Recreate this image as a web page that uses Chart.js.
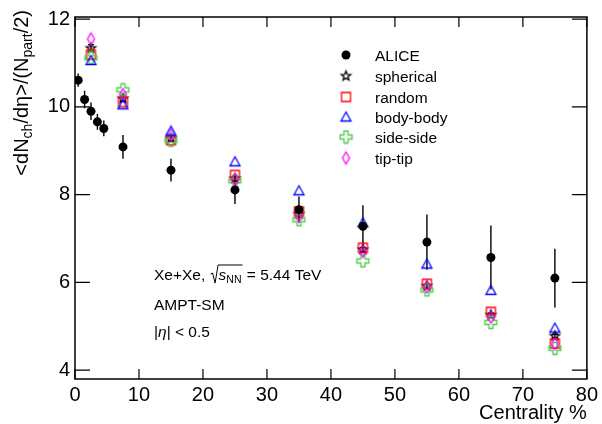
<!DOCTYPE html>
<html>
<head>
<meta charset="utf-8">
<script src="https://cdn.jsdelivr.net/npm/chart.js@4.4.1/dist/chart.umd.min.js"></script>
<style>html,body{margin:0;padding:0;background:#fff}</style>
</head>
<body>
<canvas id="myChart" width="602" height="424"></canvas>
<script>
const FONT = "'Liberation Sans', Arial, Helvetica, sans-serif";

// ALICE data
const aliceX = [0.5, 1.5, 2.5, 3.5, 4.5, 7.5, 15, 25, 35, 45, 55, 65, 75];
const aliceY = [10.61, 10.17, 9.90, 9.66, 9.51, 9.09, 8.56, 8.11, 7.66, 7.28, 6.92, 6.57, 6.10];
const aliceErr = [0.15, 0.2, 0.2, 0.18, 0.18, 0.27, 0.26, 0.32, 0.3, 0.48, 0.63, 0.73, 0.67];

// AMPT-SM curves
const modelX = [2.5, 7.5, 15, 25, 35, 45, 55, 65, 75];
const spherical = [11.34, 10.19, 9.28, 8.37, 7.56, 6.75, 5.92, 5.26, 4.78];
const sphericalErr = [0.08, 0.06, 0.05, 0.05, 0.05, 0.05, 0.04, 0.04, 0.04];
const random = [11.19, 10.11, 9.24, 8.45, 7.62, 6.79, 5.97, 5.33, 4.61];
const bodyBody = [11.06, 10.05, 9.45, 8.75, 8.09, 7.36, 6.42, 5.82, 4.96];
const sideSide = [11.12, 10.39, 9.24, 8.32, 7.43, 6.49, 5.83, 5.09, 4.50];
const tipTip = [11.55, 10.28, 9.36, 8.34, 7.51, 6.71, 5.90, 5.21, 4.60];

const xTicks = [0, 10, 20, 30, 40, 50, 60, 70, 80];
const yTicks = [4, 6, 8, 10, 12];

// open ROOT-like markers
function marker(color, draw) {
    const c = document.createElement('canvas');
    c.width = 15; c.height = 15;
    const g = c.getContext('2d');
    g.strokeStyle = color;
    g.lineWidth = 1.3;
    g.translate(7.5, 7.5);
    g.beginPath();
    draw(g);
    g.closePath();
    g.stroke();
    return c;
}
const starMk = marker('#000', g => {
    for (let i = 0; i < 10; i++) {
        let a = -Math.PI / 2 + i * Math.PI / 5
        let r = i % 2 ? 2.1 : 5
        g.lineTo(r * Math.cos(a), r * Math.sin(a))
    }
});
const squareMk = marker('#ff0000', g => g.rect(-4.5, -4.5, 9, 9));
const triMk = marker('#0000ff', g => { g.moveTo(0, -5); g.lineTo(5, 4); g.lineTo(-5, 4); });
const crossMk = marker('#4ccc4c', g => {
    const a = 2, l = 6;
    const pts = [[-a,-l],[a,-l],[a,-a],[l,-a],[l,a],[a,a],[a,l],[-a,l],[-a,a],[-l,a],[-l,-a],[-a,-a]];
    for (let p of pts) g.lineTo(p[0], p[1]);
});
const diaMk = marker('#ff00ff', g => { g.moveTo(0, -6); g.lineTo(3.5, 0); g.lineTo(0, 6); g.lineTo(-3.5, 0); });

const pts = (xs, ys) => xs.map((x, i) => ({ x: x, y: ys[i] }));

function richText(ctx, segs, x, y) {
    let cx = x;
    for (let s of segs) {
        ctx.font = (s.it ? 'italic ' : '') + s.size + 'px ' + FONT;
        ctx.fillText(s.t, cx, y + (s.dy || 0));
        cx += ctx.measureText(s.t).width;
    }
    return cx;
}
function richWidth(ctx, segs) {
    let w = 0;
    for (let s of segs) {
        ctx.font = (s.it ? 'italic ' : '') + s.size + 'px ' + FONT;
        w += ctx.measureText(s.t).width;
    }
    return w;
}

const errorBars = {
    id: 'errorBars',
    beforeDatasetsDraw(chart) {
        const ctx = chart.ctx, ys = chart.scales.y;
        chart.data.datasets.forEach((ds, i) => {
            if (!ds.err) return;
            const meta = chart.getDatasetMeta(i);
            ctx.save();
            ctx.strokeStyle = ds.borderColor;
            ctx.lineWidth = 1.4;
            meta.data.forEach((p, j) => {
                const v = ds.data[j].y;
                const top = ys.getPixelForValue(v + ds.err[j]);
                const bot = ys.getPixelForValue(v - ds.err[j]);
                ctx.beginPath();
                ctx.moveTo(p.x, top); ctx.lineTo(p.x, bot);
                if (ds.cap) {
                    ctx.moveTo(p.x - ds.cap, top); ctx.lineTo(p.x + ds.cap, top);
                    ctx.moveTo(p.x - ds.cap, bot); ctx.lineTo(p.x + ds.cap, bot);
                }
                ctx.stroke();
            });
            ctx.restore();
        });
    }
};

const rootFrame = {
    id: 'rootFrame',
    afterDraw(chart) {
        const ctx = chart.ctx, a = chart.chartArea;
        const xs = chart.scales.x, ys = chart.scales.y;
        ctx.save();
        ctx.strokeStyle = '#000';
        ctx.lineWidth = 1.5;
        ctx.strokeRect(a.left, a.top, a.right - a.left, a.bottom - a.top);
        ctx.beginPath();
        for (let v of xTicks) {
            const px = xs.getPixelForValue(v);
            ctx.moveTo(px, a.bottom); ctx.lineTo(px, a.bottom - 10);
            ctx.moveTo(px, a.top); ctx.lineTo(px, a.top + 10);
        }
        for (let v of yTicks) {
            const py = ys.getPixelForValue(v);
            ctx.moveTo(a.left, py); ctx.lineTo(a.left + 15, py);
            ctx.moveTo(a.right, py); ctx.lineTo(a.right - 15, py);
        }
        ctx.lineWidth = 1.2;
        ctx.stroke();

        ctx.fillStyle = '#000';
        ctx.textBaseline = 'alphabetic';

        // axis titles
        ctx.textAlign = 'left';
        ctx.font = '20px ' + FONT;
        const xt = 'Centrality %';
        ctx.fillText(xt, a.right - ctx.measureText(xt).width, 419);

        const ySegs = [
            { t: '<dN', size: 20 }, { t: 'ch', size: 14, dy: 4 },
            { t: '/d\u03b7>/(N', size: 20 }, { t: 'part', size: 14, dy: 4 },
            { t: '/2)', size: 20 }
        ];
        ctx.save();
        ctx.translate(28, 10);
        ctx.rotate(-Math.PI / 2);
        richText(ctx, ySegs, -richWidth(ctx, ySegs), 0);
        ctx.restore();

        // legend
        const items = [
            { mk: null, label: 'ALICE' },
            { mk: starMk, label: 'spherical' },
            { mk: squareMk, label: 'random' },
            { mk: triMk, label: 'body-body' },
            { mk: crossMk, label: 'side-side' },
            { mk: diaMk, label: 'tip-tip' }
        ];
        const rows = [55, 76, 97, 117, 137, 158];
        ctx.font = '15.5px ' + FONT;
        items.forEach((it, i) => {
            const cy = rows[i];
            if (it.mk) {
                ctx.drawImage(it.mk, 346 - 7.5, cy - 7.5);
            } else {
                ctx.beginPath();
                ctx.arc(346, cy, 4.5, 0, Math.PI * 2);
                ctx.fill();
            }
            ctx.fillText(it.label, 375, cy + 5.5);
        });

        // annotations
        const x0 = 154, b = 280;
        let cx = richText(ctx, [{ t: 'Xe+Xe, ', size: 15.5 }], x0, b);
        const rx = cx + 1;
        const endS = richText(ctx, [{ t: 's', size: 15.5, it: true }, { t: 'NN', size: 10.5, dy: 3 }], rx + 8, b);
        ctx.beginPath();
        ctx.lineWidth = 1;
        ctx.moveTo(rx, b - 6); ctx.lineTo(rx + 2, b - 7);
        ctx.lineTo(rx + 4.5, b + 3); ctx.lineTo(rx + 7.5, b - 15); ctx.lineTo(endS + 1, b - 15);
        ctx.stroke();
        richText(ctx, [{ t: ' = 5.44 TeV', size: 15.5 }], endS + 1, b);
        richText(ctx, [{ t: 'AMPT-SM', size: 15.5 }], x0, 310);
        richText(ctx, [{ t: '|', size: 15.5 }, { t: '\u03b7', size: 15.5, it: true }, { t: '| < 0.5', size: 15.5 }], x0, 337);
        ctx.restore();
    }
};

const ctx = document.getElementById('myChart');
const chart = new Chart(ctx, {
    type: 'scatter',
    data: {
        datasets: [
            { label: 'ALICE', data: pts(aliceX, aliceY), err: aliceErr, pointStyle: 'circle', pointRadius: 4.5,
              backgroundColor: '#000', borderColor: '#000', borderWidth: 0, order: 0 },
            { label: 'spherical', data: pts(modelX, spherical), err: sphericalErr, cap: 3, pointStyle: starMk, borderColor: '#000', order: 5 },
            { label: 'random', data: pts(modelX, random), pointStyle: squareMk, borderColor: '#ff0000', order: 4 },
            { label: 'body-body', data: pts(modelX, bodyBody), pointStyle: triMk, borderColor: '#0000ff', order: 1 },
            { label: 'side-side', data: pts(modelX, sideSide), pointStyle: crossMk, borderColor: '#4ccc4c', order: 3 },
            { label: 'tip-tip', data: pts(modelX, tipTip), pointStyle: diaMk, borderColor: '#ff00ff', order: 2 }
        ]
    },
    options: {
        responsive: false,
        animation: false,
        layout: { padding: { left: 0, right: 11, top: 14, bottom: 0 } },
        plugins: { legend: { display: false }, tooltip: { enabled: false } },
        scales: {
            x: {
                type: 'linear', min: 0, max: 80,
                afterBuildTicks: s => { s.ticks = xTicks.map(v => ({ value: v })) },
                afterFit: s => { s.height = 45 },
                grid: { display: false, drawTicks: false },
                border: { display: false },
                ticks: { font: { family: FONT, size: 20 }, color: '#000', padding: 4, maxRotation: 0, autoSkip: false }
            },
            y: {
                type: 'linear', min: 3.8, max: 12.05,
                afterBuildTicks: s => { s.ticks = yTicks.map(v => ({ value: v })) },
                afterFit: s => { s.width = 75 },
                grid: { display: false, drawTicks: false },
                border: { display: false },
                ticks: { font: { family: FONT, size: 20 }, color: '#000', padding: 5, autoSkip: false }
            }
        }
    },
    plugins: [errorBars, rootFrame]
});
</script>
</body>
</html>
